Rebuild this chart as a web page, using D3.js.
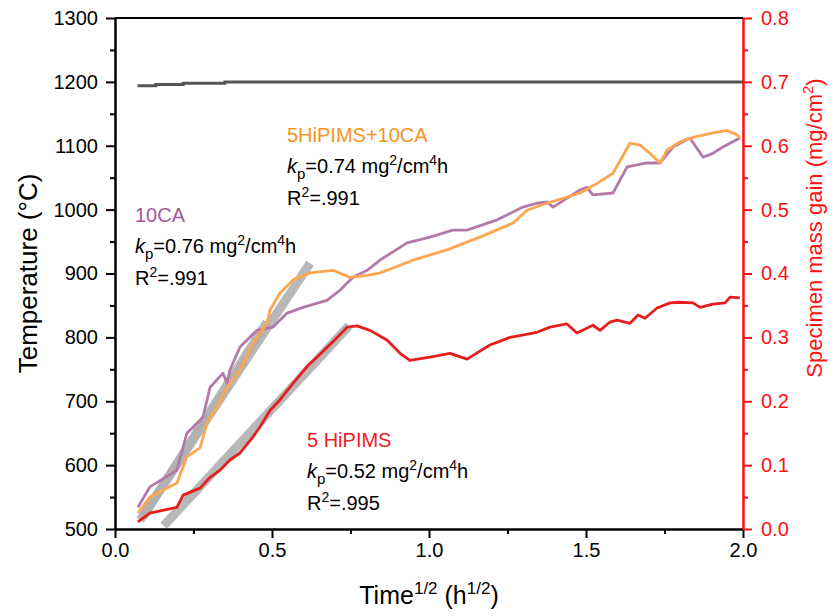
<!DOCTYPE html>
<html>
<head>
<meta charset="utf-8">
<script src="https://cdn.jsdelivr.net/npm/d3@7"></script>
<style>
  body { margin: 0; background: #fff; }
  svg { font-family: "Liberation Sans", Arial, sans-serif; }
</style>
</head>
<body>
<div id="chart"></div>
<script>
// furnace temperature (drawn on the left axis)
var tempSeries = [[0.072, 1194], [0.13, 1194], [0.13, 1196], [0.217, 1196], [0.217, 1198],
    [0.35, 1198], [0.35, 1200], [1.0, 1200], [1.5, 1200], [2.0, 1200]];

// mass gain, mg/cm2 vs sqrt(time)
var hipims5 = [[0.073, 0.011], [0.111, 0.025], [0.159, 0.030], [0.197, 0.034], [0.217, 0.053],
    [0.271, 0.064], [0.303, 0.081], [0.334, 0.092], [0.366, 0.108], [0.398, 0.119],
    [0.439, 0.144], [0.462, 0.160], [0.494, 0.186], [0.525, 0.202], [0.567, 0.228],
    [0.611, 0.254], [0.643, 0.269], [0.694, 0.293], [0.739, 0.316], [0.771, 0.318],
    [0.812, 0.311], [0.866, 0.296], [0.908, 0.275], [0.939, 0.264], [1.003, 0.269],
    [1.067, 0.275], [1.121, 0.266], [1.194, 0.288], [1.258, 0.300], [1.344, 0.308],
    [1.385, 0.316], [1.439, 0.321], [1.471, 0.307], [1.522, 0.319], [1.545, 0.311],
    [1.576, 0.324], [1.599, 0.327], [1.640, 0.322], [1.666, 0.335], [1.688, 0.330],
    [1.726, 0.346], [1.768, 0.354], [1.799, 0.355], [1.841, 0.354], [1.863, 0.347],
    [1.904, 0.352], [1.943, 0.354], [1.959, 0.363], [1.990, 0.362]];

var hipimsCA = [[0.073, 0.025], [0.111, 0.050], [0.197, 0.072], [0.229, 0.113], [0.271, 0.127],
    [0.293, 0.166], [0.325, 0.191], [0.357, 0.222], [0.398, 0.249], [0.439, 0.291],
    [0.484, 0.322], [0.494, 0.343], [0.525, 0.369], [0.567, 0.390], [0.621, 0.401],
    [0.694, 0.405], [0.748, 0.394], [0.803, 0.397], [0.844, 0.401], [0.908, 0.413],
    [0.949, 0.421], [1.057, 0.437], [1.162, 0.457], [1.268, 0.479], [1.312, 0.499],
    [1.376, 0.510], [1.481, 0.526], [1.535, 0.541], [1.586, 0.557], [1.640, 0.604],
    [1.672, 0.601], [1.704, 0.588], [1.736, 0.573], [1.758, 0.593], [1.799, 0.606],
    [1.841, 0.613], [1.904, 0.620], [1.949, 0.624], [1.981, 0.617], [1.990, 0.612]];

var ca10 = [[0.073, 0.034], [0.111, 0.066], [0.197, 0.092], [0.229, 0.150], [0.280, 0.175],
    [0.303, 0.222], [0.344, 0.244], [0.357, 0.228], [0.366, 0.249], [0.398, 0.285],
    [0.452, 0.311], [0.503, 0.316], [0.548, 0.338], [0.599, 0.347], [0.675, 0.358],
    [0.717, 0.374], [0.758, 0.394], [0.803, 0.405], [0.844, 0.421], [0.930, 0.448],
    [1.003, 0.457], [1.076, 0.468], [1.121, 0.468], [1.217, 0.484], [1.299, 0.504],
    [1.344, 0.510], [1.376, 0.512], [1.395, 0.504], [1.481, 0.531], [1.503, 0.535],
    [1.522, 0.523], [1.586, 0.526], [1.631, 0.567], [1.694, 0.573], [1.736, 0.573],
    [1.777, 0.598], [1.831, 0.612], [1.873, 0.582], [1.904, 0.588], [1.936, 0.598],
    [1.990, 0.612]];

// linear fits (start, end)
var fitHipims5 = [[0.155, 0.005], [0.745, 0.318]];
var fitHipimsCA = [[0.08, 0.014], [0.621, 0.416]];
var fitCa10 = [[0.089, 0.019], [0.484, 0.324]];

var xTicks = [0, 0.5, 1.0, 1.5, 2.0];
var xMinor = [0.25, 0.75, 1.25, 1.75];
var tempTicks = [500, 600, 700, 800, 900, 1000, 1100, 1200, 1300];
var tempMinor = [550, 650, 750, 850, 950, 1050, 1150, 1250];
var massTicks = [0, 0.1, 0.2, 0.3, 0.4, 0.5, 0.6, 0.7, 0.8];
var massMinor = [0.05, 0.15, 0.25, 0.35, 0.45, 0.55, 0.65, 0.75];

function init() {
    var w = 834, h = 616;
    var left = 115, right = 743, top = 18, bottom = 529;

    var x = d3.scaleLinear().domain([0, 2]).range([left, right]);
    var yT = d3.scaleLinear().domain([500, 1300]).range([bottom, top]);
    var yM = d3.scaleLinear().domain([0, 0.8]).range([bottom, top]);

    var svg = d3.select("#chart").append("svg")
        .attr("width", w)
        .attr("height", h);

    var red = "#ff1010";

    //fit bands
    var massLine = d3.line()
        .x(function(d) { return x(d[0]); })
        .y(function(d) { return yM(d[1]); });
    [fitHipims5, fitHipimsCA, fitCa10].forEach(function(f) {
        svg.append("path")
            .attr("d", massLine(f))
            .attr("fill", "none")
            .attr("stroke", "#b0b0b0")
            .attr("stroke-opacity", 0.9)
            .attr("stroke-width", 9);
    });

    //temperature line
    var tLine = d3.line()
        .x(function(d) { return x(d[0]); })
        .y(function(d) { return yT(d[1]); });
    svg.append("path")
        .attr("d", tLine(tempSeries))
        .attr("fill", "none")
        .attr("stroke", "#555")
        .attr("stroke-width", 3);

    // mass gain curves
    var series = [
        {data: ca10, color: "#b37aa9"},
        {data: hipimsCA, color: "#fca650"},
        {data: hipims5, color: "#e61e1e"}
    ];
    series.forEach(function(s) {
        svg.append("path")
            .attr("d", massLine(s.data))
            .attr("fill", "none")
            .attr("stroke", s.color)
            .attr("stroke-width", 2.8)
            .attr("stroke-linejoin", "round");
    });

    //axes
    function styleAxis(g, color) {
        g.select(".domain").attr("stroke", color).attr("stroke-width", 2);
        g.selectAll(".tick line").attr("stroke", color).attr("stroke-width", 2);
        g.selectAll(".tick text").attr("fill", color)
            .style("font-size", "20px")
            .style("font-family", "'Liberation Sans', Arial, sans-serif");
    }

    var gx = svg.append("g").attr("transform", "translate(0," + bottom + ")")
        .call(d3.axisBottom(x).tickValues(xTicks).tickFormat(d3.format(".1f"))
            .tickSizeInner(9).tickSizeOuter(0).tickPadding(5));
    styleAxis(gx, "#000");
    var gx2 = svg.append("g").attr("transform", "translate(0," + bottom + ")")
        .call(d3.axisBottom(x).tickValues(xMinor).tickFormat("").tickSizeInner(5).tickSizeOuter(0));
    styleAxis(gx2, "#000");

    var gl = svg.append("g").attr("transform", "translate(" + left + ",0)")
        .call(d3.axisLeft(yT).tickValues(tempTicks).tickFormat(d3.format("d"))
            .tickSizeInner(9).tickSizeOuter(0).tickPadding(8));
    styleAxis(gl, "#000");
    var gl2 = svg.append("g").attr("transform", "translate(" + left + ",0)")
        .call(d3.axisLeft(yT).tickValues(tempMinor).tickFormat("").tickSizeInner(5).tickSizeOuter(0));
    styleAxis(gl2, "#000");

    var gr = svg.append("g").attr("transform", "translate(" + right + ",0)")
        .call(d3.axisRight(yM).tickValues(massTicks).tickFormat(d3.format(".1f"))
            .tickSizeInner(9).tickSizeOuter(0).tickPadding(9));
    styleAxis(gr, red);
    var gr2 = svg.append("g").attr("transform", "translate(" + right + ",0)")
        .call(d3.axisRight(yM).tickValues(massMinor).tickFormat("").tickSizeInner(5).tickSizeOuter(0));
    styleAxis(gr2, red);

    //top frame
    svg.append("line")
        .attr("x1", left).attr("x2", right)
        .attr("y1", top).attr("y2", top)
        .attr("stroke", "#000").attr("stroke-width", 2);

    //axis titles
    var xt = svg.append("text")
        .attr("x", (left + right) / 2).attr("y", 604)
        .attr("text-anchor", "middle")
        .style("font-size", "25px");
    xt.append("tspan").text("Time");
    xt.append("tspan").attr("dy", -10).style("font-size", "17px").text("1/2");
    xt.append("tspan").attr("dy", 10).text(" (h");
    xt.append("tspan").attr("dy", -10).style("font-size", "17px").text("1/2");
    xt.append("tspan").attr("dy", 10).text(")");

    svg.append("text")
        .attr("transform", "translate(37," + (top + bottom) / 2 + ") rotate(-90)")
        .attr("text-anchor", "middle")
        .style("font-size", "26px")
        .text("Temperature (\u00B0C)");

    var rt = svg.append("text")
        .attr("transform", "translate(822,228) rotate(-90)")
        .attr("text-anchor", "middle")
        .attr("fill", red)
        .style("font-size", "22px");
    rt.append("tspan").text("Specimen mass gain (mg/cm");
    rt.append("tspan").attr("dy", -9).style("font-size", "15px").text("2");
    rt.append("tspan").attr("dy", 9).text(")");

    //annotations
    function note(x0, y0, title, color, kp, r2) {
        svg.append("text").attr("x", x0).attr("y", y0)
            .attr("fill", color).style("font-size", "20px").text(title);
        var k = svg.append("text").attr("x", x0).attr("y", y0 + 31)
            .style("font-size", "20px");
        k.append("tspan").style("font-style", "italic").text("k");
        k.append("tspan").attr("dy", 6).style("font-size", "15px").text("p");
        k.append("tspan").attr("dy", -6).text("=" + kp + " mg");
        k.append("tspan").attr("dy", -8).style("font-size", "14px").text("2");
        k.append("tspan").attr("dy", 8).text("/cm");
        k.append("tspan").attr("dy", -8).style("font-size", "14px").text("4");
        k.append("tspan").attr("dy", 8).text("h");
        var r = svg.append("text").attr("x", x0).attr("y", y0 + 63)
            .style("font-size", "20px");
        r.append("tspan").text("R");
        r.append("tspan").attr("dy", -8).style("font-size", "14px").text("2");
        r.append("tspan").attr("dy", 8).text("=" + r2);
    }
    note(135, 222, "10CA", "#a4589e", "0.76", ".991");
    note(287, 142, "5HiPIMS+10CA", "#f7941d", "0.74", ".991");
    note(307, 447, "5 HiPIMS", "#ee1c25", "0.52", ".995");
}

window.onload = init;
</script>
</body>
</html>
